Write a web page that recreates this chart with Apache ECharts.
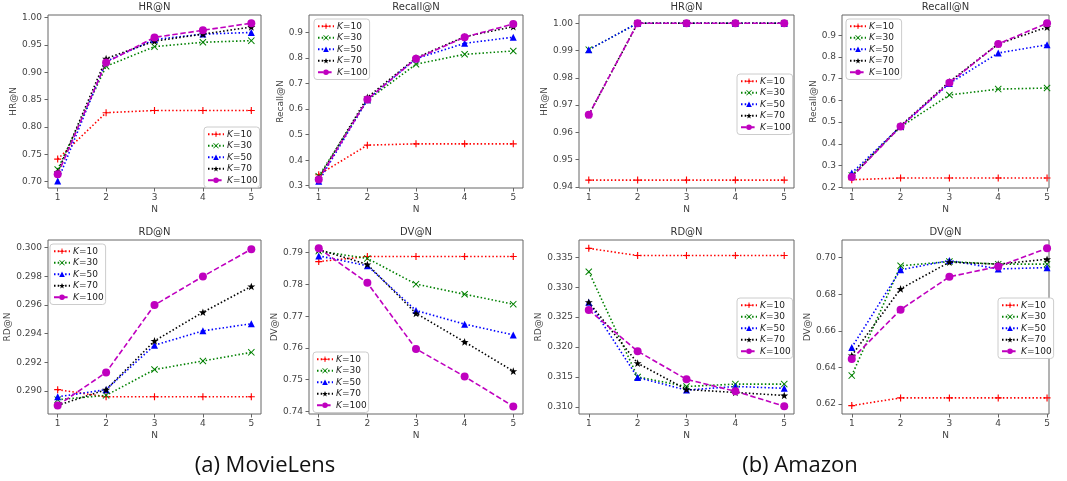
<!DOCTYPE html>
<html>
<head>
<meta charset="utf-8">
<script src="https://cdn.jsdelivr.net/npm/echarts@6/dist/echarts.min.js"></script>
<style>
html, body { margin: 0; padding: 0; background: #fff; }
#main { width: 1067px; height: 481px; }
</style>
</head>
<body>
<div id="main"></div>
<script>
// x positions (N) and legend names
var nValues = [1, 2, 3, 4, 5];
var kLabels = ['K=10', 'K=30', 'K=50', 'K=70', 'K=100'];

// MovieLens, rows are K=10, 30, 50, 70, 100
var mlHR = [
	[0.741, 0.826, 0.830, 0.830, 0.830],
	[0.722, 0.911, 0.947, 0.955, 0.958],
	[0.701, 0.920, 0.960, 0.970, 0.973],
	[0.717, 0.925, 0.957, 0.970, 0.983],
	[0.713, 0.918, 0.964, 0.977, 0.990]
];
var mlRecall = [
	[0.343, 0.459, 0.464, 0.464, 0.464],
	[0.337, 0.635, 0.776, 0.815, 0.828],
	[0.317, 0.637, 0.798, 0.858, 0.882],
	[0.330, 0.646, 0.801, 0.884, 0.923],
	[0.324, 0.638, 0.798, 0.882, 0.934]
];
var mlRD = [
	[0.2901, 0.2896, 0.2896, 0.2896, 0.2896],
	[0.2894, 0.2897, 0.2915, 0.2921, 0.2927],
	[0.2896, 0.2901, 0.2932, 0.2942, 0.2947],
	[0.2890, 0.2901, 0.2935, 0.2955, 0.2973],
	[0.2890, 0.2913, 0.2960, 0.2980, 0.2999]
];
var mlDV = [
	[0.7872, 0.7888, 0.7888, 0.7888, 0.7888],
	[0.7905, 0.7882, 0.7801, 0.7769, 0.7738],
	[0.7890, 0.7859, 0.7718, 0.7675, 0.7641],
	[0.7910, 0.7863, 0.7709, 0.7619, 0.7527],
	[0.7914, 0.7805, 0.7597, 0.7510, 0.7416]
];

// Amazon
var azHR = [
	[0.9425, 0.9425, 0.9425, 0.9425, 0.9425],
	[0.9903, 1.0, 1.0, 1.0, 1.0],
	[0.9903, 1.0, 1.0, 1.0, 1.0],
	[0.9664, 1.0, 1.0, 1.0, 1.0],
	[0.9664, 1.0, 1.0, 1.0, 1.0]
];
var azRecall = [
	[0.235, 0.243, 0.243, 0.243, 0.243],
	[0.255, 0.478, 0.625, 0.652, 0.657],
	[0.266, 0.480, 0.678, 0.818, 0.856],
	[0.250, 0.483, 0.686, 0.860, 0.937],
	[0.248, 0.480, 0.681, 0.860, 0.955]
];
var azRD = [
	[0.3365, 0.3353, 0.3353, 0.3353, 0.3353],
	[0.3326, 0.3150, 0.3134, 0.3138, 0.3138],
	[0.3275, 0.3149, 0.3128, 0.3134, 0.3131],
	[0.3275, 0.3173, 0.3129, 0.3124, 0.3119],
	[0.3262, 0.3193, 0.3146, 0.3126, 0.3101]
];
var azDV = [
	[0.6191, 0.6233, 0.6233, 0.6233, 0.6233],
	[0.6355, 0.6955, 0.6978, 0.6964, 0.6964],
	[0.6509, 0.6933, 0.6984, 0.6938, 0.6945],
	[0.6465, 0.6829, 0.6975, 0.6964, 0.6991],
	[0.6445, 0.6715, 0.6895, 0.6951, 0.7051]
];

// y tick labels for each panel
var ticksHRml = [0.70, 0.75, 0.80, 0.85, 0.90, 0.95, 1.00];
var ticksRecallml = [0.3, 0.4, 0.5, 0.6, 0.7, 0.8, 0.9];
var ticksHRaz = [0.94, 0.95, 0.96, 0.97, 0.98, 0.99, 1.00];
var ticksRecallaz = [0.2, 0.3, 0.4, 0.5, 0.6, 0.7, 0.8, 0.9];
var ticksRDml = [0.290, 0.292, 0.294, 0.296, 0.298, 0.300];
var ticksDVml = [0.74, 0.75, 0.76, 0.77, 0.78, 0.79];
var ticksRDaz = [0.310, 0.315, 0.320, 0.325, 0.330, 0.335];
var ticksDVaz = [0.62, 0.64, 0.66, 0.68, 0.70];

var View = function() {
	var FONT = 'DejaVu Sans';
	var plusPath = 'path://M-0.8,-5 L0.8,-5 L0.8,-0.8 L5,-0.8 L5,0.8 L0.8,0.8 L0.8,5 L-0.8,5 L-0.8,0.8 L-5,0.8 L-5,-0.8 L-0.8,-0.8 Z';
	var crossPath = 'path://M-5,-4 L-4,-5 L0,-1 L4,-5 L5,-4 L1,0 L5,4 L4,5 L0,1 L-4,5 L-5,4 L-1,0 Z';
	var starPath = 'path://M0,-10 L2.35,-3.24 L9.51,-3.09 L3.8,1.24 L5.88,8.09 L0,4 L-5.88,8.09 L-3.8,1.24 L-9.51,-3.09 L-2.35,-3.24 Z';

	// line style for each K
	var styles = [
		{color: '#ff0000', symbol: plusPath, size: 7, dash: [1.5, 2.2]},
		{color: '#008000', symbol: crossPath, size: 7, dash: [1.5, 2.2]},
		{color: '#0000ff', symbol: 'triangle', size: 7, dash: [1.5, 2.2]},
		{color: '#000000', symbol: starPath, size: 8, dash: [1.5, 2.2]},
		{color: '#bf00bf', symbol: 'circle', size: 8, dash: [5.5, 2.6]}
	];

	var top1 = 15, top2 = 240, h1 = 173, h2 = 174;
	var panels = [
		{title: 'HR@N', data: mlHR, ticks: ticksHRml, dec: 2, min: 0.688, max: 1.005,
			grid: {left: 48, top: top1, width: 213, height: h1}, legend: {left: 204, top: 127}, nameGap: 30, xMax: 5.2},
		{title: 'Recall@N', data: mlRecall, ticks: ticksRecallml, dec: 1, min: 0.291, max: 0.969,
			grid: {left: 309, top: top1, width: 214, height: h1}, legend: {left: 314, top: 19}, nameGap: 18, xMax: 5.2},
		{title: 'HR@N', data: azHR, ticks: ticksHRaz, dec: 2, min: 0.9396, max: 1.003,
			grid: {left: 579, top: top1, width: 215, height: h1}, legend: {left: 737, top: 74}, nameGap: 24, xMax: 5.2},
		{title: 'Recall@N', data: azRecall, ticks: ticksRecallaz, dec: 1, min: 0.197, max: 0.993,
			grid: {left: 842, top: top1, width: 207, height: h1}, legend: {left: 846, top: 19}, nameGap: 19, xMax: 5.04},
		{title: 'RD@N', data: mlRD, ticks: ticksRDml, dec: 3, min: 0.2884, max: 0.30054,
			grid: {left: 48, top: top2, width: 213, height: h2}, legend: {left: 50, top: 244}, nameGap: 29, xMax: 5.2},
		{title: 'DV@N', data: mlDV, ticks: ticksDVml, dec: 2, min: 0.7392, max: 0.7940,
			grid: {left: 309, top: top2, width: 214, height: h2}, legend: {left: 313, top: 352}, nameGap: 24, xMax: 5.2},
		{title: 'RD@N', data: azRD, ticks: ticksRDaz, dec: 3, min: 0.3088, max: 0.3379,
			grid: {left: 579, top: top2, width: 215, height: h2}, legend: {left: 737, top: 298}, nameGap: 27, xMax: 5.2},
		{title: 'DV@N', data: azDV, ticks: ticksDVaz, dec: 2, min: 0.6145, max: 0.7096,
			grid: {left: 842, top: top2, width: 207, height: h2}, legend: {left: 998, top: 298}, nameGap: 24, xMax: 5.04}
	];

	var $each = function(arr, fn) {
		for (var i = 0; i < arr.length; i++) fn(arr[i], i);
	};

	var buildOption = function() {
		var grids = [], xAxes = [], yAxes = [], titles = [], legends = [], series = [];

		$each(panels, function(p, i) {
			var g = p.grid;
			grids.push({
				left: g.left, top: g.top, width: g.width, height: g.height,
				show: true, borderColor: '#666', borderWidth: 1, containLabel: false
			});
			titles.push({
				text: p.title,
				left: g.left + g.width / 2, top: g.top - 13, textAlign: 'center', padding: 0,
				textStyle: {fontFamily: FONT, fontSize: 10, fontWeight: 'normal', color: '#333'}
			});
			xAxes.push({
				gridIndex: i, type: 'value', min: 0.8, max: p.xMax,
				name: 'N', nameLocation: 'middle', nameGap: 17,
				nameTextStyle: {fontFamily: FONT, fontSize: 9, color: '#444'},
				axisLine: {show: false},
				splitLine: {show: false},
				axisTick: {show: true, length: 3.5, lineStyle: {color: '#666'}, customValues: nValues},
				axisLabel: {fontFamily: FONT, fontSize: 9, color: '#444', margin: 5, customValues: nValues,
					formatter: function(v) { return String(v); }}
			});
			yAxes.push({
				gridIndex: i, type: 'value', min: p.min, max: p.max,
				name: p.title, nameLocation: 'middle', nameRotate: 90, nameGap: p.nameGap,
				nameTextStyle: {fontFamily: FONT, fontSize: 9, color: '#444'},
				axisLine: {show: false},
				splitLine: {show: false},
				axisTick: {show: true, length: 3.5, lineStyle: {color: '#666'}, customValues: p.ticks},
				axisLabel: {fontFamily: FONT, fontSize: 9, color: '#444', margin: 6, customValues: p.ticks,
					formatter: (function(d) { return function(v) { return v.toFixed(d); }; })(p.dec)}
			});
			legends.push({
				data: kLabels, orient: 'vertical',
				left: p.legend.left, top: p.legend.top,
				itemWidth: 16, itemHeight: 7, itemGap: 1,
				padding: [2, 2, 2, 3],
				backgroundColor: '#fff', borderColor: '#ccc', borderWidth: 1, borderRadius: 3,
				selectedMode: false,
				formatter: function(name) { return '{i|K}' + name.substring(1); },
				textStyle: {fontFamily: FONT, fontSize: 9, color: '#222', lineHeight: 10.5, padding: [0, 0, 0, -2],
					rich: {i: {fontFamily: FONT, fontSize: 9, fontStyle: 'italic', color: '#222'}}}
			});
			$each(p.data, function(vals, j) {
				var st = styles[j];
				var pts = [];
				for (var k = 0; k < vals.length; k++) {
					pts.push([nValues[k], vals[k]]);
				}
				series.push({
					name: kLabels[j], type: 'line',
					xAxisIndex: i, yAxisIndex: i,
					data: pts,
					symbol: st.symbol, symbolSize: st.size, symbolKeepAspect: true,
					showAllSymbol: true,
					lineStyle: {color: st.color, width: 1.6, type: st.dash},
					itemStyle: {color: st.color},
					emphasis: {disabled: true},
					animation: false
				});
			});
		});

		// sub captions
		titles.push({
			text: '(a) MovieLens', left: 265, top: 455, textAlign: 'center', padding: 0,
			textStyle: {fontFamily: 'Open Sans', fontSize: 22, fontWeight: 'normal', color: '#111'}
		});
		titles.push({
			text: '(b) Amazon', left: 800, top: 455, textAlign: 'center', padding: 0,
			textStyle: {fontFamily: 'Open Sans', fontSize: 22, fontWeight: 'normal', color: '#111'}
		});

		return {
			backgroundColor: '#fff',
			animation: false,
			title: titles,
			legend: legends,
			grid: grids,
			xAxis: xAxes,
			yAxis: yAxes,
			series: series
		};
	};

	return {
		init: function() {
			var myChart = echarts.init(document.getElementById('main'), null, {renderer: 'canvas'});
			myChart.setOption(buildOption());
		}
	};
}();

View.init();
</script>
</body>
</html>
